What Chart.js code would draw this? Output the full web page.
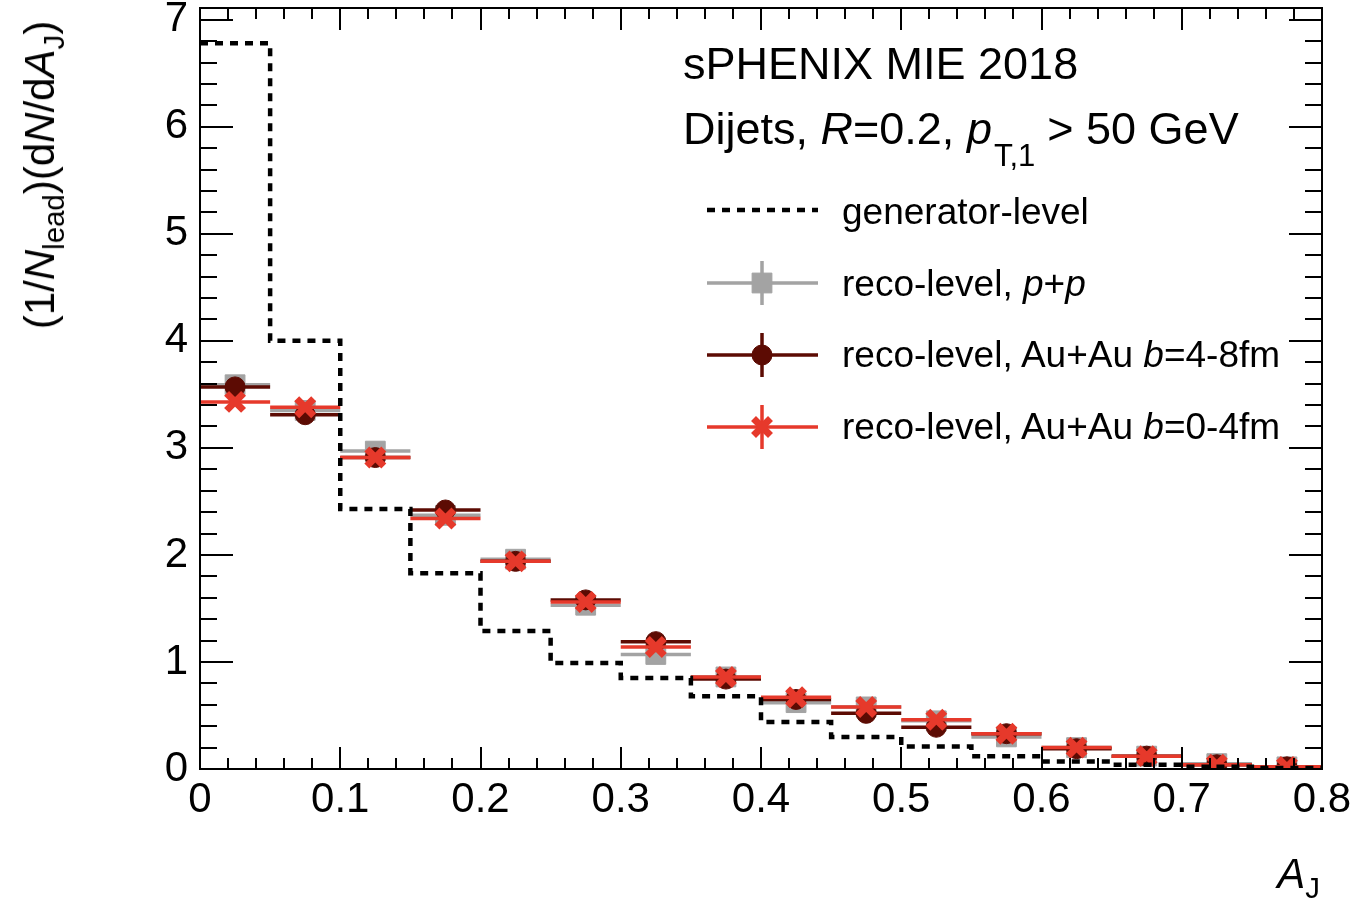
<!DOCTYPE html>
<html>
<head>
<meta charset="utf-8">
<title>sPHENIX dijet A_J</title>
<script src="https://cdn.jsdelivr.net/npm/chart.js@4.4.1/dist/chart.umd.min.js"></script>
<style>
  html, body { margin: 0; padding: 0; background: #fff; }
  #wrap { position: relative; width: 1354px; height: 901px; font-family: "Liberation Sans", Arial, Helvetica, sans-serif; color: #000; }
  #ajChart { position: absolute; left: 0; top: 0; }
  .txt { position: absolute; white-space: nowrap; line-height: 1; }
  .sub { font-size: 0.7em; position: relative; top: 0.35em; }
  #title { left: 683px; top: 41px; font-size: 45px; }
  #subtitle { left: 683px; top: 106px; font-size: 45px; }
  #subtitle .pt { font-size: 31px; position: relative; top: 22px; margin-right: 12px; margin-left: 2px; }
  .leg { left: 842px; font-size: 37px; }
  #ytitle { left: 40px; top: 175px; font-size: 42px; transform: translate(-50%, -50%) rotate(-90deg); }
  #xtitle { right: 34px; top: 853px; font-size: 42px; }
</style>
</head>
<body>
<div id="wrap">
  <canvas id="ajChart" width="1354" height="901"></canvas>
  <div class="txt" id="title">sPHENIX MIE 2018</div>
  <div class="txt" id="subtitle">Dijets, <i>R</i>=0.2, <i>p</i><span class="pt">T,1</span>&gt; 50 GeV</div>
  <div class="txt leg" style="top:193px">generator-level</div>
  <div class="txt leg" style="top:265px">reco-level, <i>p</i>+<i>p</i></div>
  <div class="txt leg" style="top:336px">reco-level, Au+Au <i>b</i>=4-8fm</div>
  <div class="txt leg" style="top:408px">reco-level, Au+Au <i>b</i>=0-4fm</div>
  <div class="txt" id="ytitle">(1/<i>N</i><span class="sub">lead</span>)(d<i>N</i>/d<i>A</i><span class="sub">J</span>)</div>
  <div class="txt" id="xtitle"><i>A</i><span class="sub">J</span></div>
</div>
<script>
/* ── Data ───────────────────────────────────────────── */
const binCenters = [0.025, 0.075, 0.125, 0.175, 0.225, 0.275, 0.325, 0.375,
                    0.425, 0.475, 0.525, 0.575, 0.625, 0.675, 0.725, 0.775];
const binWidth = 0.05;

const generatorLevel = [6.78, 4.00, 2.43, 1.83, 1.29, 0.99, 0.85, 0.68,
                        0.44, 0.30, 0.21, 0.12, 0.07, 0.04, 0.02, 0.01];
const recoPP = [3.59, 3.35, 2.97, 2.37, 1.96, 1.53, 1.07, 0.86,
                0.62, 0.58, 0.45, 0.30, 0.20, 0.12, 0.05, 0.02];
const recoAuAuMid = [3.57, 3.31, 2.91, 2.42, 1.94, 1.58, 1.19, 0.84,
                     0.65, 0.52, 0.39, 0.33, 0.19, 0.12, 0.04, 0.02];   // b=4-8fm
const recoAuAuCentral = [3.43, 3.38, 2.91, 2.34, 1.94, 1.56, 1.14, 0.86,
                         0.67, 0.58, 0.46, 0.33, 0.20, 0.12, 0.04, 0.02]; // b=0-4fm

const xRange = [0, 0.8];
const yRange = [0, 7.11];

/* ── Colours / fonts ────────────────────────────────── */
const GRAY = "#a3a3a3";
const DARK = "#5c0b03";
const RED = "#e6392b";
const FONT = '"Liberation Sans", Arial, Helvetica, sans-serif';

const points = vals => binCenters.map((c, i) => ({ x: c, y: vals[i] }));

// step outline: left edge of each bin, plus the last right edge
const stepPoints = vals => {
    const pts = binCenters.map((c, i) => ({ x: c - binWidth / 2, y: vals[i] }));
    pts.push({ x: binCenters[binCenters.length - 1] + binWidth / 2, y: vals[vals.length - 1] });
    return pts;
};

/* ── Plugins ────────────────────────────────────────── */
// horizontal bin-width bars behind each marker series
const binBars = {
    id: "binBars",
    beforeDatasetDraw(chart, args) {
        const ds = chart.data.datasets[args.index];
        if (!ds.barColor) return;
        const { ctx, chartArea: a, scales: { x, y } } = chart;
        ctx.save();
        ctx.beginPath();
        ctx.rect(a.left, a.top, a.width, a.height);
        ctx.clip();
        ctx.strokeStyle = ds.barColor;
        ctx.lineWidth = 3.5;
        ds.data.forEach(p => {
            const py = y.getPixelForValue(p.y);
            ctx.beginPath();
            ctx.moveTo(x.getPixelForValue(p.x - binWidth / 2), py);
            ctx.lineTo(x.getPixelForValue(p.x + binWidth / 2), py);
            ctx.stroke();
        });
        ctx.restore();
    },
};

// ROOT style frame with inward ticks on all four sides
const rootFrame = {
    id: "rootFrame",
    afterDraw(chart) {
        const { ctx, chartArea: a, scales: { x, y } } = chart;
        ctx.save();
        ctx.strokeStyle = "#000";
        ctx.lineWidth = 2;
        ctx.strokeRect(a.left, a.top, a.width, a.height);
        ctx.beginPath();
        for (let i = 0; i * 0.02 <= x.max + 1e-9; i++) {
            const px = Math.round(x.getPixelForValue(i * 0.02));
            const len = i % 5 === 0 ? 22 : 11;
            ctx.moveTo(px, a.bottom); ctx.lineTo(px, a.bottom - len);
            ctx.moveTo(px, a.top); ctx.lineTo(px, a.top + len);
        }
        for (let i = 0; i * 0.2 <= y.max + 1e-9; i++) {
            const py = Math.round(y.getPixelForValue(i * 0.2));
            const len = i % 5 === 0 ? 33 : 17;
            ctx.moveTo(a.left, py); ctx.lineTo(a.left + len, py);
            ctx.moveTo(a.right, py); ctx.lineTo(a.right - len, py);
        }
        ctx.stroke();
        ctx.restore();
    },
};

// legend symbols (texts are html next to them)
const legendMarks = {
    id: "legendMarks",
    afterDraw(chart) {
        const ctx = chart.ctx;
        const x0 = 707, x1 = 818, xm = 762;
        ctx.save();
        // generator-level
        ctx.strokeStyle = "#000";
        ctx.lineWidth = 4.5;
        ctx.setLineDash([8, 7]);
        ctx.beginPath(); ctx.moveTo(x0, 210); ctx.lineTo(x1, 210); ctx.stroke();
        ctx.setLineDash([]);

        const errMark = (yc, color, style, radius, bw) => {
            ctx.strokeStyle = color;
            ctx.lineWidth = 3.5;
            ctx.beginPath();
            ctx.moveTo(x0, yc); ctx.lineTo(x1, yc);
            ctx.moveTo(xm, yc - 22); ctx.lineTo(xm, yc + 22);
            ctx.stroke();
            ctx.fillStyle = color;
            ctx.lineWidth = bw;
            Chart.helpers.drawPoint(ctx, { pointStyle: style, radius, borderWidth: bw, rotation: 0 }, xm, yc);
        };
        errMark(283, GRAY, "rect", 14, 1);
        errMark(355, DARK, "circle", 10, 1);
        errMark(427, RED, "crossRot", 12, 7);
        ctx.restore();
    },
};

/* ── Chart ──────────────────────────────────────────── */
const ctx = document.getElementById("ajChart").getContext("2d");

new Chart(ctx, {
    type: "line",
    data: {
        datasets: [
            {
                label: "generator-level",
                data: stepPoints(generatorLevel),
                stepped: true,
                borderColor: "#000",
                borderWidth: 4.5,
                borderDash: [8, 7],
                pointRadius: 0,
                fill: false,
                order: 0,
            },
            {
                label: "reco-level, Au+Au b=0-4fm",
                data: points(recoAuAuCentral),
                showLine: false,
                barColor: RED,
                pointStyle: "crossRot",
                pointRadius: 12,
                pointBorderWidth: 7,
                borderColor: RED,
                backgroundColor: RED,
                order: 1,
            },
            {
                label: "reco-level, Au+Au b=4-8fm",
                data: points(recoAuAuMid),
                showLine: false,
                barColor: DARK,
                pointStyle: "circle",
                pointRadius: 10,
                pointBorderWidth: 1,
                borderColor: DARK,
                backgroundColor: DARK,
                order: 2,
            },
            {
                label: "reco-level, p+p",
                data: points(recoPP),
                showLine: false,
                barColor: GRAY,
                pointStyle: "rect",
                pointRadius: 14,
                pointBorderWidth: 1,
                borderColor: GRAY,
                backgroundColor: GRAY,
                order: 3,
            },
        ],
    },
    options: {
        responsive: false,
        animation: false,
        events: [],
        layout: { autoPadding: false, padding: { top: 8, right: 32, left: 0, bottom: 0 } },
        plugins: {
            legend: { display: false },
            tooltip: { enabled: false },
        },
        scales: {
            x: {
                type: "linear",
                min: xRange[0],
                max: xRange[1],
                grid: { display: false, drawTicks: false },
                border: { display: false },
                ticks: {
                    stepSize: 0.1,
                    padding: 6,
                    color: "#000",
                    maxRotation: 0,
                    autoSkip: false,
                    font: { family: FONT, size: 42 },
                },
                afterFit: s => {
                    s.height = 132;
                    s.paddingLeft = 0;
                    s.paddingRight = 0;
                },
            },
            y: {
                type: "linear",
                min: yRange[0],
                max: yRange[1],
                grid: { display: false, drawTicks: false },
                border: { display: false },
                ticks: {
                    stepSize: 1,
                    includeBounds: false,
                    padding: 12,
                    color: "#000",
                    font: { family: FONT, size: 42 },
                },
                afterFit: s => {
                    s.width = 200;
                    s.paddingTop = 0;
                    s.paddingBottom = 0;
                },
            },
        },
    },
    plugins: [binBars, rootFrame, legendMarks],
});
</script>
</body>
</html>
